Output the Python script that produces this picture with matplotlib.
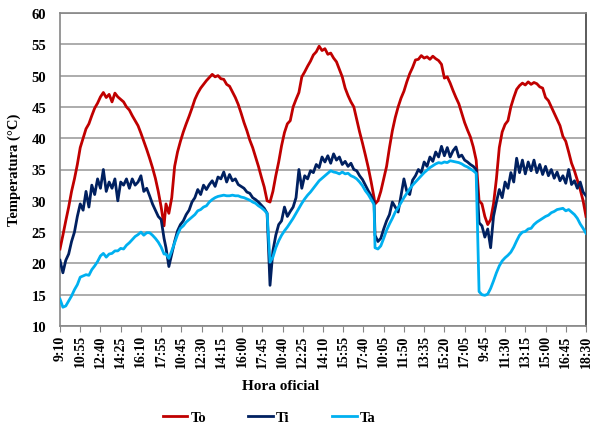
import numpy as np
import matplotlib
matplotlib.use("Agg")
import matplotlib.pyplot as plt

plt.rcParams['font.family'] = ['Liberation Serif', 'DejaVu Serif']
plt.rcParams['font.weight'] = 'bold'

# readings every 15 min (3 steps of 5 min) for each of the five days
day_start = [0, 110, 218, 327, 435]
step = 3

to_1 = [22.3, 24.5, 26.8, 29.0, 31.5, 33.5, 35.8, 38.5, 40.0, 41.5, 42.3, 43.6, 44.8,
        45.6, 46.6, 47.3, 46.5, 47.0, 45.8, 47.2, 46.6, 46.2, 45.8, 45.0, 44.5, 43.6,
        42.8, 42.0, 40.8, 39.5, 38.2, 36.8, 35.3, 33.6, 31.5, 29.0, 26.0]
to_2 = [29.5, 28.0, 30.5, 35.5, 37.8, 39.5, 41.0, 42.3, 43.5, 44.8, 46.2, 47.2, 48.0,
        48.6, 49.2, 49.7, 50.2, 49.8, 50.0, 49.5, 49.4, 48.6, 48.3, 47.4, 46.5, 45.4,
        44.0, 42.5, 41.2, 39.7, 38.5, 37.0, 35.5, 33.8, 32.2, 30.0]
to_3 = [29.8, 31.5, 34.0, 36.2, 38.8, 40.9, 42.3, 42.8, 45.0, 46.2, 47.3, 49.8, 50.6,
        51.5, 52.3, 53.3, 53.8, 54.7, 54.0, 54.3, 53.4, 53.6, 52.8, 52.2, 51.0, 49.8,
        48.0, 46.8, 45.8, 45.0, 43.0, 41.0, 39.2, 37.3, 35.3, 33.0, 30.5]
to_4 = [29.5, 30.0, 31.5, 33.5, 35.5, 38.5, 41.2, 43.3, 45.0, 46.4, 47.5, 49.0, 50.3,
        51.3, 52.5, 52.6, 53.2, 52.8, 53.0, 52.6, 53.1, 52.7, 52.4, 51.8, 49.6, 49.8,
        48.8, 47.6, 46.5, 45.5, 44.0, 42.5, 41.3, 40.2, 38.6, 36.5]
to_5 = [30.0, 29.5, 27.5, 26.2, 27.0, 29.5, 33.5, 38.5, 41.0, 42.2, 42.8, 45.0, 46.5,
        47.8, 48.4, 48.8, 48.5, 49.0, 48.6, 48.9, 48.7, 48.2, 48.0, 46.5, 46.0, 45.0,
        44.0, 43.0, 42.0, 40.3, 39.5, 37.8, 36.0, 34.8, 33.3, 31.8, 30.0, 27.5]

ti_1 = [20.5, 18.5, 20.5, 21.5, 23.5, 25.0, 27.5, 29.5, 28.5, 31.5, 29.0, 32.5, 31.0,
        33.5, 32.0, 35.0, 31.5, 33.0, 32.0, 33.5, 30.0, 33.0, 32.5, 33.5, 32.0, 33.5,
        32.5, 33.0, 34.0, 31.5, 32.0, 30.8, 29.5, 28.5, 27.5, 27.0, 24.0]
ti_2 = [22.5, 19.5, 21.5, 23.5, 25.2, 26.2, 26.8, 27.8, 28.5, 29.8, 30.5, 31.8, 31.0,
        32.5, 31.8, 32.6, 33.2, 32.3, 33.8, 33.5, 34.6, 33.0, 34.2, 33.2, 33.5, 32.6,
        32.3, 32.0, 31.4, 31.2, 30.5, 30.2, 29.8, 29.3, 28.8, 28.0]
ti_3 = [16.5, 22.0, 24.5, 26.2, 26.8, 29.0, 27.5, 28.3, 29.0, 30.5, 35.0, 32.0, 34.0,
        33.5, 34.8, 34.5, 35.8, 35.3, 37.0, 36.2, 37.2, 36.0, 37.5, 36.5, 37.0, 35.8,
        36.3, 35.5, 36.0, 35.0, 34.8, 34.0, 33.4, 32.5, 31.6, 30.8, 29.8]
ti_4 = [24.5, 23.5, 24.0, 25.5, 26.8, 27.8, 29.8, 29.0, 28.2, 30.8, 33.5, 31.5, 31.0,
        33.3, 34.0, 35.0, 34.5, 36.2, 35.5, 37.0, 36.3, 37.8, 37.0, 38.7, 37.2, 38.5,
        37.0, 38.0, 38.6, 37.0, 37.3, 36.5, 36.2, 35.8, 35.5, 35.0]
ti_5 = [26.5, 26.0, 24.2, 25.5, 22.5, 27.5, 29.8, 31.8, 30.5, 33.0, 32.0, 34.5, 33.0,
        36.8, 34.5, 36.5, 34.3, 36.2, 34.8, 36.5, 34.5, 35.8, 34.2, 35.5, 34.0, 35.0,
        33.6, 34.6, 33.2, 34.0, 32.8, 35.0, 32.6, 33.2, 32.0, 33.0, 31.4, 30.8]

ta_1 = [14.3, 13.0, 13.2, 14.0, 14.8, 15.8, 16.6, 17.8, 18.0, 18.2, 18.1, 19.0, 19.6,
        20.3, 21.2, 21.6, 21.0, 21.5, 21.6, 22.0, 22.0, 22.4, 22.3, 22.9, 23.3, 23.8,
        24.3, 24.6, 25.0, 24.5, 24.9, 24.9, 24.5, 24.0, 23.4, 22.6, 21.5]
ta_2 = [21.5, 20.8, 22.0, 23.3, 24.6, 25.6, 26.0, 26.6, 27.0, 27.4, 27.8, 28.4, 28.6,
        29.0, 29.2, 29.8, 30.2, 30.5, 30.7, 30.8, 30.9, 30.8, 30.8, 30.9, 30.8, 30.8,
        30.6, 30.5, 30.3, 30.1, 29.8, 29.6, 29.2, 28.9, 28.5, 28.0]
ta_3 = [20.2, 21.0, 22.5, 23.6, 24.5, 25.2, 25.8, 26.5, 27.2, 28.0, 28.8, 29.6, 30.3,
        30.9, 31.4, 32.0, 32.6, 33.2, 33.6, 34.0, 34.4, 34.8, 34.6, 34.5, 34.3, 34.6,
        34.3, 34.4, 34.0, 33.8, 33.5, 33.0, 32.4, 31.6, 31.0, 30.2, 29.4]
ta_4 = [22.5, 22.3, 22.8, 24.0, 25.3, 26.3, 27.2, 28.2, 28.9, 29.7, 30.5, 31.2, 31.9,
        32.5, 33.0, 33.5, 34.0, 34.5, 34.9, 35.3, 35.6, 35.9, 36.1, 36.0, 36.2, 36.1,
        36.4, 36.3, 36.2, 36.1, 35.9, 35.6, 35.4, 35.1, 34.8, 34.4]
ta_5 = [15.5, 15.0, 14.9, 15.1, 16.0, 17.2, 18.5, 19.6, 20.4, 20.9, 21.3, 21.8, 22.6,
        23.6, 24.5, 25.0, 25.1, 25.5, 25.6, 26.2, 26.6, 26.9, 27.2, 27.5, 27.7, 28.1,
        28.3, 28.6, 28.7, 28.8, 28.4, 28.6, 28.2, 27.8, 27.2, 26.3, 25.6, 24.8]

tick_labels = ['9:10', '10:55', '12:40', '14:25', '16:10', '17:55',
               '10:45', '12:30', '14:15', '16:00', '17:45',
               '10:40', '12:25', '14:10', '15:55', '17:40',
               '10:05', '11:50', '13:35', '15:20', '17:05',
               '9:45', '11:30', '13:15', '15:00', '16:45', '18:30']
tick_every = 21


def join_days(days):
    xs, ys = [], []
    for start, vals in zip(day_start, days):
        xs.append(start + step * np.arange(len(vals)))
        ys.append(np.array(vals))
    return np.concatenate(xs), np.concatenate(ys)


series = [
    ('To', [to_1, to_2, to_3, to_4, to_5], '#C00000'),
    ('Ti', [ti_1, ti_2, ti_3, ti_4, ti_5], '#002060'),
    ('Ta', [ta_1, ta_2, ta_3, ta_4, ta_5], '#00B0F0'),
]

fig = plt.figure(figsize=(5.92, 4.27), dpi=100)
ax = fig.add_axes([60 / 592, 100 / 427, 526 / 592, 313 / 427])

handles = []
for name, days, color in series:
    x, y = join_days(days)
    ln, = ax.plot(x, y, color=color, lw=2.0, label=name, zorder=3)
    handles.append(ln)

ax.set_xlim(0, 546)
ax.set_ylim(10, 60)
ax.set_yticks(np.arange(10, 61, 5))
ax.set_xticks(np.arange(len(tick_labels)) * tick_every)
ax.set_xticklabels(tick_labels, rotation=90, fontsize=10, fontweight='bold')
for lbl in ax.get_yticklabels():
    lbl.set_fontsize(10.5)
    lbl.set_fontweight('bold')

ax.yaxis.grid(True, color='#a6a6a6', lw=1.3)
ax.set_axisbelow(True)
ax.tick_params(axis='x', direction='out', length=4, color='#868686', pad=2)
ax.tick_params(axis='y', length=0, pad=10)
for side in ['left', 'bottom', 'top']:
    ax.spines[side].set_color('#868686')
    ax.spines[side].set_linewidth(1.2)
ax.spines['right'].set_color('#404040')
ax.spines['right'].set_linewidth(1.2)

fig.text(14 / 592, (427 - 170) / 427, 'Temperatura (°C)', rotation=90,
         ha='center', va='center', fontsize=10.5, fontweight='bold')
fig.text(281 / 592, (427 - 387) / 427, 'Hora oficial', ha='center', va='center',
         fontsize=11, fontweight='bold')

fig.legend(handles=handles, loc='center', bbox_to_anchor=(269 / 592, 9 / 427),
           ncol=3, frameon=False, handlelength=1.7,
           handletextpad=0.2, columnspacing=2.9, prop={'weight': 'bold', 'size': 10.5})

fig.savefig('out.png', dpi=100)
